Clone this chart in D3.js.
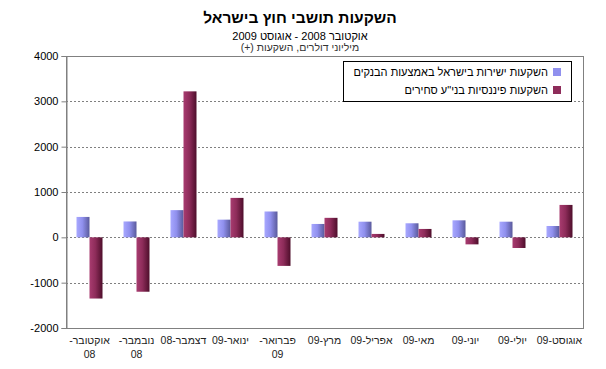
<!DOCTYPE html>
<html><head><meta charset="utf-8">
<script src="https://cdn.jsdelivr.net/npm/d3@7/dist/d3.min.js"></script>
<style>body{margin:0;background:#fff}svg{display:block;font-family:"Liberation Sans",Arial,sans-serif}</style>
</head><body><svg id="c" width="606" height="369"></svg>
<script>
const categories = ["אוקטובר-08","נובמבר-08","דצמבר-08","ינואר-09","פברואר-09","מרץ-09","אפריל-09","מאי-09","יוני-09","יולי-09","אוגוסט-09"];
const labelLines = [["אוקטובר-","08"],["נובמבר-","08"],["דצמבר-08"],["ינואר-09"],["פברואר-","09"],["מרץ-09"],["אפריל-09"],["מאי-09"],["יוני-09"],["יולי-09"],["אוגוסט-09"]];
const seriesNames = ["השקעות ישירות בישראל באמצעות הבנקים","השקעות פיננסיות בני\"ע סחירים"];
const directInv = [450,350,600,390,570,295,345,310,375,345,250];
const financialInv = [-1350,-1200,3220,870,-630,430,75,185,-155,-235,715];
const yTicks = [-2000,-1000,0,1000,2000,3000,4000];
const title = "השקעות תושבי חוץ בישראל";
const subtitle = "אוקטובר 2008 - אוגוסט 2009";
const unitNote = "מיליוני דולרים, השקעות (+)";

const svg = d3.select("#c");
const L = 66, R = 583, T = 56, B = 328;
const defs = svg.append("defs");
function grad(id, stops){
  const g = defs.append("linearGradient").attr("id", id).attr("x1","0").attr("x2","1").attr("y1","0").attr("y2","0");
  stops.forEach(s => g.append("stop").attr("offset", s[0]).attr("stop-color", s[1]));
}
grad("gb", [["0%","#a8a8ff"],["45%","#9090ee"],["100%","#5a5a9c"]]);
grad("gr", [["0%","#a83c70"],["45%","#8e2c5a"],["100%","#4e0e2b"]]);
const fills = ["url(#gb)","url(#gr)"];
const swatch = ["#9090ee","#8e2c5a"];

const x = d3.scaleBand().domain(categories).range([L, R]).paddingInner(0.447).paddingOuter(0.2235);
const xs = d3.scaleBand().domain([0,1]).range([0, x.bandwidth()]);
const y = d3.scaleLinear().domain([-2000, 4000]).range([B, T]);

svg.append("rect").attr("x", L + 0.5).attr("y", T + 0.5).attr("width", R - L).attr("height", B - T)
  .attr("fill", "#fff").attr("stroke", "#808080").attr("stroke-width", 1);

svg.append("g").selectAll("line").data(yTicks.filter(v => v > -2000 && v < 4000)).join("line")
  .attr("x1", L).attr("x2", R).attr("y1", d => Math.round(y(d)) + 0.5).attr("y2", d => Math.round(y(d)) + 0.5)
  .attr("stroke", "#808080").attr("stroke-dasharray", "2,2");

const ya = svg.append("g").attr("transform", `translate(${L + 0.5},0)`)
  .call(d3.axisLeft(y).tickValues(yTicks).tickSize(5).tickPadding(3).tickFormat(d => String(d)));
ya.select(".domain").attr("stroke", "#808080");
ya.selectAll(".tick line").attr("stroke", "#808080");
ya.selectAll("text").attr("font-size", 11).attr("fill", "#000").attr("font-family", "Liberation Sans, Arial, sans-serif");

const data = categories.map((c, i) => ({c, v: [directInv[i], financialInv[i]]}));
const grp = svg.append("g").selectAll("g").data(data).join("g").attr("transform", d => `translate(${x(d.c)},0)`);
grp.selectAll("rect").data(d => d.v.map((v, k) => ({v, k}))).join("rect")
  .attr("x", d => xs(d.k)).attr("width", xs.bandwidth())
  .attr("y", d => y(Math.max(0, d.v))).attr("height", d => Math.abs(y(d.v) - y(0)))
  .attr("fill", d => fills[d.k]);

const xl = svg.append("g").selectAll("text").data(categories.map((c, i) => ({c, lines: labelLines[i]}))).join("text")
  .attr("x", d => x(d.c) + x.bandwidth() / 2).attr("y", 344)
  .attr("text-anchor", "middle").attr("direction", "rtl").attr("font-size", 10.5).attr("fill", "#222");
xl.each(function(d){
  const t = d3.select(this);
  d.lines.forEach((ln, j) => t.append("tspan").attr("x", x(d.c) + x.bandwidth() / 2).attr("dy", j ? 14 : 0).text(ln));
});

const lg = svg.append("g");
lg.append("rect").attr("x", 343.5).attr("y", 61.5).attr("width", 228).attr("height", 40)
  .attr("fill", "#fff").attr("stroke", "#000").attr("stroke-width", 1);
seriesNames.forEach((n, k) => {
  const yy = 76 + k * 18;
  lg.append("rect").attr("x", 553).attr("y", yy - 8).attr("width", 8).attr("height", 8).attr("fill", swatch[k]);
  lg.append("text").attr("x", 548).attr("y", yy).attr("text-anchor", "start").attr("direction", "rtl")
    .attr("font-size", 11).attr("fill", "#000").text(n);
});

svg.append("text").attr("x", 300).attr("y", 23).attr("text-anchor", "middle").attr("direction", "rtl")
  .attr("font-size", 15.5).attr("font-weight", "bold").text(title);
svg.append("text").attr("x", 300).attr("y", 40).attr("text-anchor", "middle").attr("direction", "rtl")
  .attr("font-size", 11).text(subtitle);
svg.append("text").attr("x", 300).attr("y", 51).attr("text-anchor", "middle").attr("direction", "rtl")
  .attr("font-size", 10.5).attr("fill", "#333").text(unitNote);
</script></body></html>
